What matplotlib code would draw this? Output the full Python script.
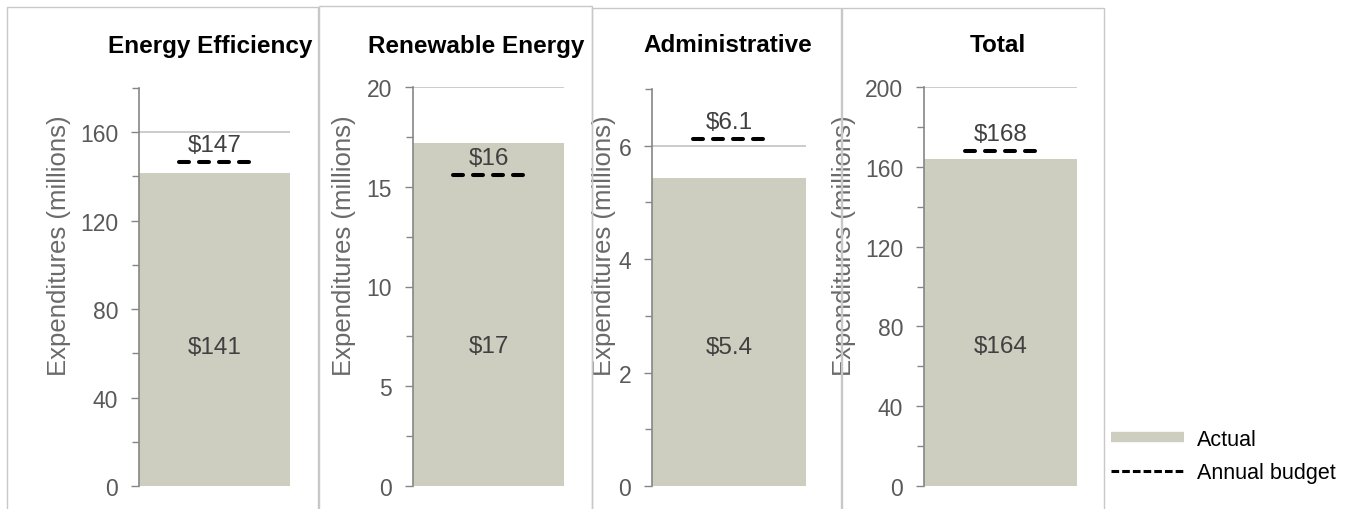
import matplotlib
matplotlib.use("Agg")
import matplotlib.pyplot as plt
from matplotlib.patches import Rectangle
from matplotlib.lines import Line2D
from matplotlib.ticker import MultipleLocator

plt.rcParams['font.family'] = ['Liberation Sans', 'DejaVu Sans']
plt.rcParams['lines.scale_dashes'] = False

# Program areas and their spending (millions of dollars)
programs = ["Energy Efficiency", "Renewable Energy", "Administrative", "Total"]
actual = [141.4, 17.2, 5.43, 164.0]
budget = [146.6, 15.6, 6.12, 168.0]
actual_labels = ["$141", "$17", "$5.4", "$164"]
budget_labels = ["$147", "$16", "$6.1", "$168"]
y_max = [180, 20, 7, 200]
major_step = [40, 5, 2, 40]
minor_step = [20, 2.5, 1, 20]

W, H = 1352, 510
fig = plt.figure(figsize=(W / 100, H / 100), dpi=100)

BAR = "#cdcdc0"
SPINE = "#868686"
GRID = "#c4c4c4"
FRAME = "#c8c8c8"

# panel layout in pixels: axes (left, right, top, bottom) and frame (left, right, top)
axes_px = [(139, 290, 89, 487), (413, 564, 88, 487), (652, 806, 90, 487), (924, 1077, 88, 487)]
frames_px = [(7, 318, 8), (319, 592, 7), (592, 841, 9), (842, 1104, 9)]
ylabel_x = [71, 356, 616, 856]
title_x = [210, 476, 728, 998]

for fl, fr, ft in frames_px:
    fig.add_artist(Rectangle((fl / W, -0.1), (fr - fl) / W, (H - ft) / H + 0.1,
                             transform=fig.transFigure, fill=False,
                             edgecolor=FRAME, linewidth=1.0))

for i, name in enumerate(programs):
    l, r, t, b = axes_px[i]
    ax = fig.add_axes([l / W, (H - b) / H, (r - l) / W, (b - t) / H])
    ax.set_xlim(-0.5, 0.5)
    ax.set_ylim(0, y_max[i])
    ax.set_facecolor("none")

    ax.bar([0], [actual[i]], width=1.0, color=BAR, zorder=2)
    ax.plot([-0.235, 0.235], [budget[i], budget[i]], color="black",
            linewidth=2.9, dashes=(7.2, 7.2), dash_capstyle="round",
            solid_capstyle="round", zorder=3)

    ax.yaxis.set_major_locator(MultipleLocator(major_step[i]))
    ax.yaxis.set_minor_locator(MultipleLocator(minor_step[i]))
    ax.yaxis.grid(True, which="major", color=GRID, linewidth=1.2, zorder=0)
    ax.set_axisbelow(True)
    ax.set_xticks([])
    for s in ["top", "right", "bottom"]:
        ax.spines[s].set_visible(False)
    ax.spines["left"].set_color(SPINE)
    ax.spines["left"].set_linewidth(1.2)
    ax.tick_params(axis="y", which="major", length=6, width=1, color=SPINE,
                   labelsize=16.5, labelcolor="#595959", pad=9)
    ax.tick_params(axis="y", which="minor", length=5, width=1, color=SPINE)

    ax.set_ylabel("Expenditures (millions)", fontsize=18.5, color="#6a6a6a")
    ax.yaxis.set_label_coords(ylabel_x[i] / W, (H - 246) / H, transform=fig.transFigure)

    fig.text(title_x[i] / W, (H - 46) / H, name, ha="center", va="center",
             fontsize=17.5, fontweight="bold", color="black")

    ax.text(0, 0.35, actual_labels[i], transform=ax.get_xaxis_transform(),
            ha="center", va="center", fontsize=17.5, color="#404040")
    ax.annotate(budget_labels[i], xy=(0, budget[i]), xytext=(0, 12),
                textcoords="offset points", ha="center", va="center",
                fontsize=17.5, color="#404040")

handles = [Line2D([0], [0], color=BAR, linewidth=7.5, solid_capstyle="butt"),
           Line2D([0], [0], color="black", linewidth=2.2, dashes=(5.5, 2.2))]
fig.legend(handles, ["Actual", "Annual budget"], loc="center left",
           bbox_to_anchor=(1111 / W, (H - 457) / H), frameon=False,
           fontsize=15.5, handlelength=3.4, handletextpad=0.6,
           labelspacing=0.6, borderpad=0, borderaxespad=0)

fig.savefig("out.png", dpi=100)
